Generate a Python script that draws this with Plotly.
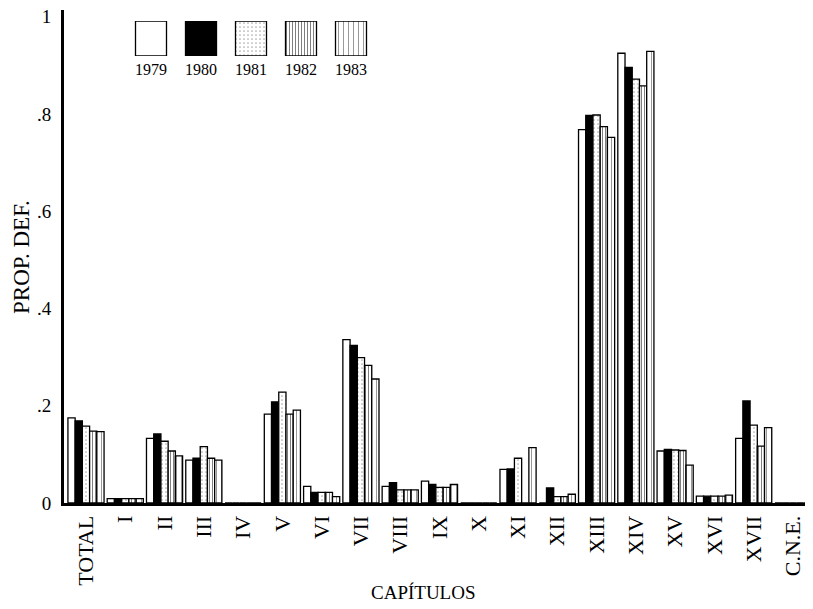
import plotly.graph_objects as go

categories = ["TOTAL", "I", "II", "III", "IV", "V", "VI", "VII", "VIII", "IX", "X",
              "XI", "XII", "XIII", "XIV", "XV", "XVI", "XVII", "C.N.E."]
years = ["1979", "1980", "1981", "1982", "1983"]

v1979 = [0.175, 0.009, 0.133, 0.088, 0, 0.183, 0.034, 0.336, 0.034, 0.045, 0,
         0.069, 0, 0.768, 0.925, 0.107, 0.014, 0.133, 0]
v1980 = [0.169, 0.009, 0.142, 0.092, 0, 0.208, 0.022, 0.324, 0.042, 0.038, 0,
         0.070, 0.031, 0.797, 0.896, 0.110, 0.014, 0.210, 0]
v1981 = [0.158, 0.009, 0.127, 0.116, 0, 0.228, 0.022, 0.299, 0.027, 0.032, 0,
         0.092, 0.013, 0.798, 0.872, 0.109, 0.014, 0.160, 0]
v1982 = [0.148, 0.009, 0.107, 0.092, 0, 0.183, 0.022, 0.283, 0.027, 0.032, 0,
         0, 0.013, 0.774, 0.858, 0.108, 0.014, 0.117, 0]
v1983 = [0.147, 0.009, 0.097, 0.088, 0, 0.191, 0.013, 0.255, 0.027, 0.038, 0,
         0.114, 0.018, 0.752, 0.929, 0.078, 0.016, 0.155, 0]
series = [v1979, v1980, v1981, v1982, v1983]

y_ticks = [0, 0.2, 0.4, 0.6, 0.8, 1]
y_ticktext = ["0", ".2", ".4", ".6", ".8", "1"]

FONT = "Liberation Serif"

styles = [
    dict(color="white", pattern=dict(shape="")),
    dict(color="black", pattern=dict(shape="")),
    dict(color="white", pattern=dict(shape=".", fgcolor="#555", bgcolor="white", size=4, solidity=0.15)),
    dict(color="white", pattern=dict(shape="|", fgcolor="black", bgcolor="white", size=3, solidity=0.35)),
    dict(color="white", pattern=dict(shape="|", fgcolor="#333", bgcolor="white", size=5, solidity=0.2)),
]

fig = go.Figure()
for yr, vals, st in zip(years, series, styles):
    fig.add_trace(go.Bar(
        x=categories, y=vals, name=yr, showlegend=False,
        marker=dict(color=st["color"], pattern=st["pattern"],
                    line=dict(color="black", width=1.3)),
        xaxis="x", yaxis="y",
    ))

# inset legend drawn as bars on a small secondary axis
for yr, st in zip(years, styles):
    fig.add_trace(go.Bar(
        x=[yr], y=[1], showlegend=False, width=0.62,
        marker=dict(color=st["color"], pattern=st["pattern"],
                    line=dict(color="black", width=1.3)),
        xaxis="x2", yaxis="y2",
    ))

# page body adds an 8px offset; plot area spans x 64..813, y 10..503 in the window
W, H = 805, 601
L, T, B = 56, 2, 106
PW, PH = W - L, H - T - B

fig.update_layout(
    width=W, height=H,
    margin=dict(l=L, r=0, t=T, b=B),
    paper_bgcolor="white", plot_bgcolor="white",
    barmode="group", bargap=0.08, bargroupgap=0,
    font=dict(family=FONT, color="black", size=17),
    xaxis=dict(
        domain=[0, 1], automargin=False,
        range=[-0.56, 18.51],
        showline=True, linecolor="black", linewidth=3,
        showgrid=False, zeroline=False, ticks="",
        tickangle=-90, tickfont=dict(family=FONT, size=22),
        ticklabelstandoff=1, ticklabeloverflow="allow",
    ),
    yaxis=dict(
        domain=[0, 1], automargin=False,
        range=[0, 1.014],
        showline=True, linecolor="black", linewidth=3,
        showgrid=False, zeroline=False, ticks="",
        tickvals=y_ticks, ticktext=y_ticktext,
        tickfont=dict(family=FONT, size=19),
        ticklabelstandoff=6, ticklabeloverflow="allow",
    ),
    xaxis2=dict(
        domain=[(126 - 64) / PW, (376 - 64) / PW], anchor="y2", automargin=False,
        showline=False, showgrid=False, zeroline=False, ticks="",
        tickfont=dict(family=FONT, size=16),
        ticklabelstandoff=2,
        range=[-0.5, 4.5],
    ),
    yaxis2=dict(
        domain=[(503 - 56) / PH, (503 - 21) / PH], anchor="x2", automargin=False,
        range=[0, 1], showline=False, showgrid=False, zeroline=False,
        showticklabels=False, ticks="",
    ),
    annotations=[
        dict(text="CAPÍTULOS", xref="paper", yref="paper", x=(423 - 64) / PW,
             y=-(592 - 503) / PH, xanchor="center", yanchor="middle",
             showarrow=False, font=dict(family=FONT, size=19)),
        dict(text="PROP. DEF.", xref="paper", yref="paper", x=-(64 - 21) / PW,
             y=(503 - 257) / PH, xanchor="center", yanchor="middle",
             textangle=-90, showarrow=False, font=dict(family=FONT, size=23)),
    ],
)

fig.write_html("out.html")
